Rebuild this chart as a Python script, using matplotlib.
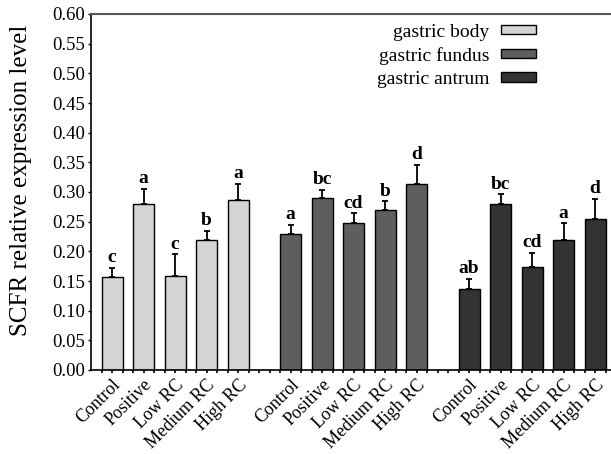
import matplotlib
matplotlib.use("Agg")
import matplotlib.pyplot as plt
import numpy as np
from matplotlib.patches import Patch

plt.rcParams['font.family'] = ['Liberation Serif', 'DejaVu Serif']

treatments = ["Control", "Positive", "Low RC", "Medium RC", "High RC"]
regions = ["gastric body", "gastric fundus", "gastric antrum"]
colors = ["#d4d4d4", "#5e5e5e", "#333333"]

body_vals = [0.157, 0.280, 0.158, 0.219, 0.287]
body_err = [0.015, 0.025, 0.037, 0.015, 0.027]
body_sig = ["c", "a", "c", "b", "a"]

fundus_vals = [0.229, 0.290, 0.248, 0.269, 0.313]
fundus_err = [0.016, 0.013, 0.016, 0.015, 0.033]
fundus_sig = ["a", "bc", "cd", "b", "d"]

antrum_vals = [0.137, 0.279, 0.173, 0.219, 0.254]
antrum_err = [0.017, 0.017, 0.025, 0.028, 0.035]
antrum_sig = ["ab", "bc", "cd", "a", "d"]

values = [body_vals, fundus_vals, antrum_vals]
errors = [body_err, fundus_err, antrum_err]
sigs = [body_sig, fundus_sig, antrum_sig]

fig = plt.figure(figsize=(6.11, 4.54), dpi=100)
ax = fig.add_axes([91/611, 1-370/454, 1-91/611, (370-14)/454])

group_offset = 17/3
width = 0.667
all_pos = []
all_labels = []
for g in range(3):
    pos = np.arange(5) + g * group_offset
    ax.bar(pos, values[g], width=width, color=colors[g], edgecolor="black",
           linewidth=1.0, zorder=2)
    ax.errorbar(pos, values[g], yerr=[np.zeros(5), errors[g]], fmt="none",
                ecolor="black", elinewidth=1.3, capsize=2.5, capthick=1.3, zorder=3)
    for p, v, e, s in zip(pos, values[g], errors[g], sigs[g]):
        ax.text(p, v + e + 0.003, s, ha="center", va="bottom",
                fontsize=14, fontweight="bold")
    all_pos.extend(pos)
    all_labels.extend(treatments)

ax.set_xlim(-0.667, 15.84)
ax.set_ylim(0, 0.60)
ax.set_yticks(np.arange(0, 0.61, 0.05))
ax.set_yticklabels([f"{t:.2f}" for t in np.arange(0, 0.61, 0.05)], fontsize=13.5)
ax.set_xticks(all_pos)
ax.set_xticklabels(all_labels, rotation=45, ha="right", rotation_mode="anchor",
                   fontsize=13)
ax.set_xticks(np.arange(-1/3, 15.84, 1/3), minor=True)
ax.tick_params(axis="x", which="both", direction="out", length=2.5, width=1.2, pad=2)
ax.tick_params(axis="y", which="both", direction="out", length=2, width=1, pad=2)
ax.set_ylabel("SCFR relative expression level", fontsize=18)
ax.yaxis.set_label_coords(-0.113, 0.534)

for sp in ["left", "bottom"]:
    ax.spines[sp].set_linewidth(1.2)
ax.spines["top"].set_linewidth(1.5)
ax.spines["top"].set_color("#555555")
ax.spines["right"].set_visible(False)

handles = [Patch(facecolor=c, edgecolor="black", linewidth=1) for c in colors]
ax.legend(handles, regions, loc="upper right", bbox_to_anchor=(550/611, 1 - 10/454),
          bbox_transform=fig.transFigure, frameon=False, markerfirst=False,
          fontsize=14, handlelength=1.8, handleheight=0.35, labelspacing=0.32,
          handletextpad=0.6, borderaxespad=0.3)

fig.savefig("out.png", dpi=100)
